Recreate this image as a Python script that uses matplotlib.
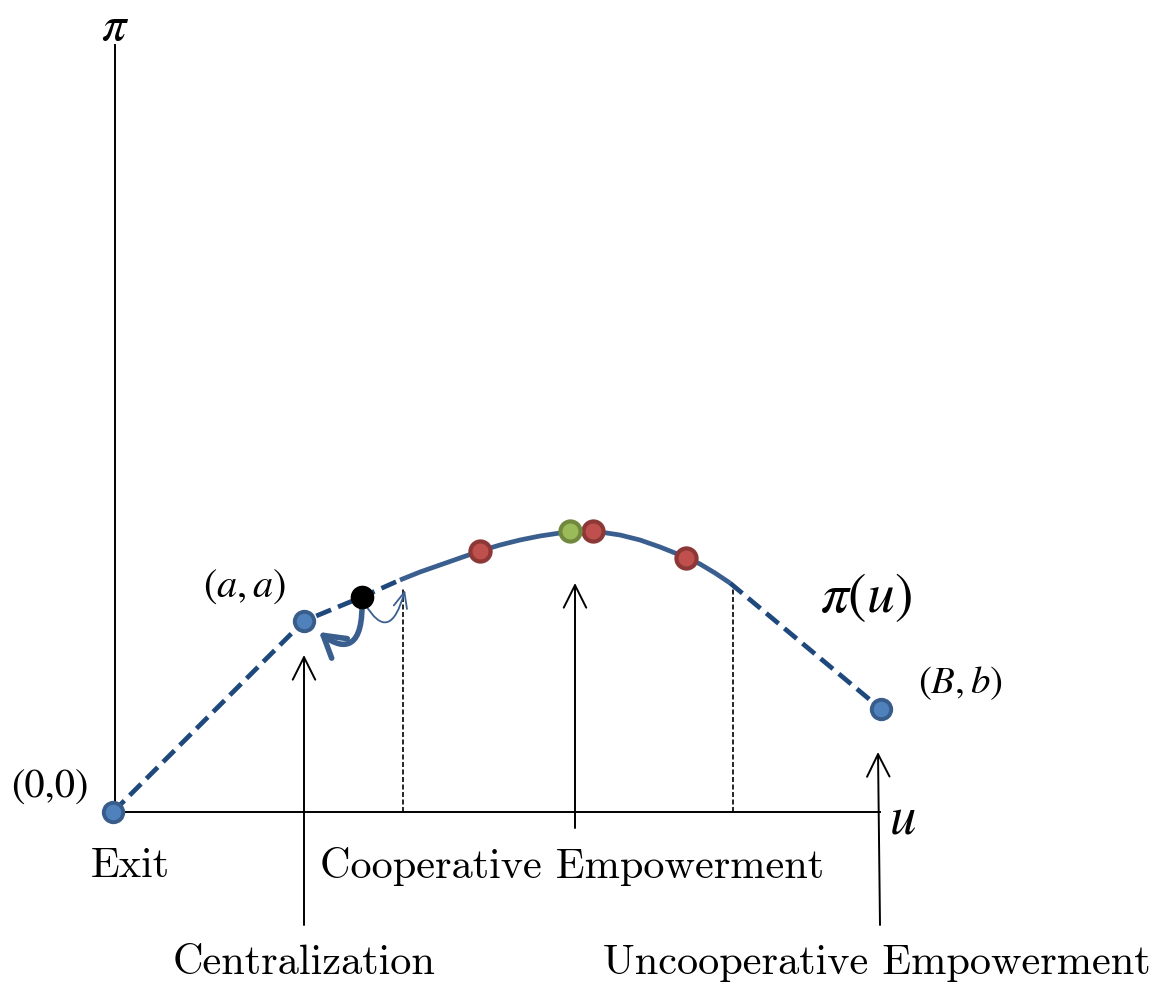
import matplotlib
matplotlib.use("Agg")
import matplotlib.pyplot as plt
from matplotlib.patches import FancyArrowPatch
from matplotlib.path import Path

plt.rcParams["mathtext.fontset"] = "stix"

# ---- payoff curve pi(u): coordinates (u, pi) ----
left_dash_u = [0, 191, 249, 287]
left_dash_pi = [0, 191, 215, 232]

solid_u = [287, 307, 327, 347, 367, 387, 407, 427, 447, 467, 487, 507, 527, 547, 567, 587, 602, 617]
solid_pi = [232, 240, 247, 254, 261, 267, 272, 276, 279, 281, 280, 277, 272, 265, 257, 248, 239, 229]

right_dash_u = [617, 768]
right_dash_pi = [229, 103]

# named points
origin = (0, 0)
point_a = (191, 191)
point_B = (768, 103)
black_pt = (249, 215)
green_pt = (457, 281)
red_u = [367, 480, 573]
red_pi = [261, 281, 254]

# dashed projections to the axis
proj_u = [290, 620]
proj_top = [224, 227]

# arrows from the regime labels (u_start, pi_start, u_end, pi_end)
regime_arrows = [
    (191, -113, 191, 157),
    (462, -16, 462, 229),
    (767, -113, 765, 60),
]

regime_labels = ["Exit", "Cooperative Empowerment", "Centralization", "Uncooperative Empowerment"]
regime_pos = [(17, -54), (459, -54), (191, -151), (764, -151)]

CURVE = "#3a5f8f"
DASH = "#1f497d"
BLUE_FILL = "#4f81bd"
BLUE_EDGE = "#385d8a"
RED_FILL = "#c0504d"
RED_EDGE = "#8c3836"
GREEN_FILL = "#9bbb59"
GREEN_EDGE = "#71893f"

fig = plt.figure(figsize=(11.59, 9.84), dpi=100)
ax = fig.add_axes([0, 0, 1, 1])
ax.set_xlim(-113, 1046)
ax.set_ylim(-172, 812)
ax.axis("off")

# axes
ax.plot([2, 2], [0, 767], color="black", lw=1.4, zorder=1)
ax.plot([0, 767], [0, 0], color="black", lw=1.4, zorder=1)

# projections
for u, top in zip(proj_u, proj_top):
    ax.plot([u, u], [0, top], color="black", lw=1.2, ls=(0, (3, 1.5)), zorder=1)

# curve
ax.plot(left_dash_u, left_dash_pi, color=DASH, lw=3.4, ls=(0, (3.4, 1.6)),
        dash_capstyle="butt", zorder=2)
ax.plot(solid_u, solid_pi, color=CURVE, lw=3.4, solid_capstyle="butt", zorder=2)
ax.plot(right_dash_u, right_dash_pi, color=DASH, lw=3.4, ls=(0, (3.4, 1.6)),
        dash_capstyle="butt", zorder=2)

# markers
for pt in (origin, point_a, point_B):
    ax.plot(*pt, "o", ms=14, mfc=BLUE_FILL, mec=BLUE_EDGE, mew=2.8, zorder=5)
ax.plot(red_u, red_pi, "o", ms=14.5, mfc=RED_FILL, mec=RED_EDGE, mew=3, ls="none", zorder=5)
ax.plot(*green_pt, "o", ms=14.5, mfc=GREEN_FILL, mec=GREEN_EDGE, mew=3, zorder=5)
ax.plot(*black_pt, "o", ms=16, color="black", zorder=6)

# regime arrows
for u0, p0, u1, p1 in regime_arrows:
    ax.add_patch(FancyArrowPatch((u0, p0), (u1, p1),
                                 arrowstyle="->,head_length=0.9,head_width=0.45",
                                 mutation_scale=18, color="black", lw=1.4,
                                 shrinkA=0, shrinkB=0, zorder=3))

# thin arrow: black point drifting right
thin = Path([(252, 208), (277, 166), (292, 222)], [Path.MOVETO, Path.CURVE3, Path.CURVE3])
ax.add_patch(FancyArrowPatch(path=thin, arrowstyle="->,head_length=0.8,head_width=0.35",
                             mutation_scale=14, color=CURVE, lw=1.3, zorder=4))

# thick arrow: black point falling back to (a, a)
thick = Path([(249, 206), (249, 158), (226, 164), (206, 180)],
             [Path.MOVETO, Path.CURVE4, Path.CURVE4, Path.CURVE4])
ax.add_patch(FancyArrowPatch(path=thick, arrowstyle="->,head_length=0.75,head_width=0.45",
                             mutation_scale=20, color=CURVE, lw=4, zorder=4))

# labels
ax.text(2, 786, r"$\pi$", fontsize=35, ha="center", va="center")
ax.text(790, -6, r"$u$", fontsize=38, ha="center", va="center")
ax.text(753, 215, r"$\pi(u)$", fontsize=40, ha="center", va="center")
ax.text(132, 226, r"$(a,a)$", fontsize=29, ha="center", va="center")
ax.text(847, 129, r"$(B,b)$", fontsize=28, ha="center", va="center")
ax.text(-63, 24, "(0,0)", fontsize=29, family="STIXGeneral", ha="center", va="center")

for txt, (u, p) in zip(regime_labels, regime_pos):
    ax.text(u, p, txt, fontsize=30.5, family="cmr10", ha="center", va="center")

fig.savefig("out.png", dpi=100)
